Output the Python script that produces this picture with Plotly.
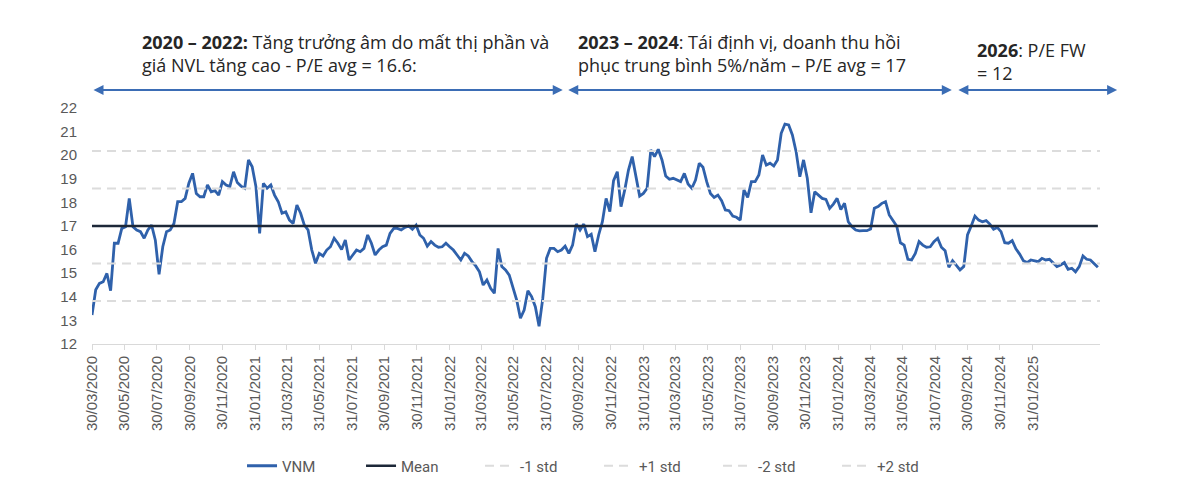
import pandas as pd
import plotly.graph_objects as go

# VNM trailing P/E, one reading per week starting 30/03/2020
pe = [
    13.23, 14.30, 14.57, 14.64, 14.99, 14.26, 16.27, 16.27, 16.90, 16.97,
    18.17, 16.97, 16.83, 16.76, 16.48, 16.83, 17.04, 16.40, 14.95, 16.12,
    16.76, 16.83, 17.11, 18.03, 18.03, 18.17, 18.81, 19.23, 18.38, 18.24,
    18.24, 18.74, 18.45, 18.50, 18.31, 18.88, 18.74, 18.67, 19.30, 18.84,
    18.69, 18.60, 19.80, 19.51, 18.67, 16.69, 18.81, 18.60, 18.74, 18.31,
    18.03, 17.54, 17.60, 17.25, 17.11, 17.89, 17.54, 17.04, 16.83, 15.98,
    15.42, 15.84, 15.73, 15.98, 16.12, 16.48, 16.27, 16.00, 16.41, 15.56,
    15.77, 15.98, 15.91, 16.05, 16.62, 16.27, 15.77, 15.98, 16.12, 16.19,
    16.69, 16.90, 16.90, 16.83, 16.94, 17.00, 16.86, 17.04, 16.62, 16.48,
    16.15, 16.34, 16.19, 16.10, 16.12, 16.27, 16.12, 15.98, 15.77, 15.56,
    15.84, 15.73, 15.49, 15.31, 15.06, 14.50, 14.71, 14.36, 14.15, 16.05,
    15.28, 15.14, 14.92, 14.36, 13.86, 13.09, 13.44, 14.26, 14.01, 13.58,
    12.75, 13.93, 15.63, 16.05, 16.05, 15.91, 15.98, 16.15, 15.84, 16.19,
    17.08, 16.83, 17.08, 16.55, 16.65, 15.91, 16.62, 17.18, 18.17, 17.61,
    18.92, 19.30, 17.82, 18.53, 19.37, 19.94, 19.02, 18.27, 18.38, 18.60,
    20.22, 19.94, 20.25, 19.80, 19.12, 18.98, 19.02, 18.95, 18.88, 19.23,
    18.78, 18.60, 18.95, 19.66, 19.49, 18.88, 18.38, 18.21, 18.31, 18.07,
    17.68, 17.65, 17.42, 17.37, 17.25, 18.53, 18.21, 18.88, 18.88, 19.16,
    20.01, 19.58, 19.66, 19.54, 19.80, 20.93, 21.32, 21.28, 20.86, 20.15,
    19.09, 19.80, 19.02, 17.56, 18.45, 18.31, 18.17, 18.13, 17.75, 17.93,
    18.17, 17.70, 17.96, 17.18, 16.97, 16.83, 16.79, 16.80, 16.80, 16.87,
    17.75, 17.82, 17.96, 18.03, 17.47, 17.23, 17.00, 16.29, 16.19, 15.59,
    15.56, 15.84, 16.34, 16.19, 16.10, 16.12, 16.34, 16.48, 16.10, 15.95,
    15.25, 15.53, 15.35, 15.14, 15.28, 16.62, 17.00, 17.42, 17.25, 17.18,
    17.23, 17.08, 16.86, 16.94, 16.76, 16.29, 16.27, 16.38, 16.03, 15.81,
    15.53, 15.45, 15.56, 15.53, 15.49, 15.63, 15.56, 15.59, 15.42, 15.28,
    15.35, 15.45, 15.16, 15.21, 15.06, 15.28, 15.73, 15.59, 15.56, 15.39,
    15.25,
]
pe_mean = 17.0
pe_std = 1.59

tick_labels = [
    "30/03/2020", "30/05/2020", "30/07/2020", "30/09/2020", "30/11/2020",
    "31/01/2021", "31/03/2021", "31/05/2021", "31/07/2021", "30/09/2021", "30/11/2021",
    "31/01/2022", "31/03/2022", "31/05/2022", "31/07/2022", "30/09/2022", "30/11/2022",
    "31/01/2023", "31/03/2023", "31/05/2023", "31/07/2023", "30/09/2023", "30/11/2023",
    "31/01/2024", "31/03/2024", "31/05/2024", "31/07/2024", "30/09/2024", "30/11/2024",
    "31/01/2025",
]

# period notes above the chart
notes = [
    "<b>2020 – 2022:</b> Tăng trưởng âm do mất thị phần và<br>giá NVL tăng cao - P/E avg = 16.6:",
    "<b>2023 – 2024</b>: Tái định vị, doanh thu hồi<br>phục trung bình 5%/năm – P/E avg = 17",
    "<b>2026</b>: P/E FW<br>= 12",
]

dates = pd.date_range("2020-03-30", periods=len(pe), freq="7D")
tick_dates = pd.to_datetime(tick_labels, format="%d/%m/%Y")
x_end = pd.Timestamp("2025-06-06")

fig = go.Figure()

fig.add_trace(go.Scatter(x=dates, y=pe, name="VNM", mode="lines",
                         line=dict(color="#2f61ab", width=2.8)))
fig.add_trace(go.Scatter(x=[dates[0], dates[-1]], y=[pe_mean, pe_mean], name="Mean",
                         mode="lines", line=dict(color="#1d2838", width=2.4)))

bands = [("-1 std", -1), ("+1 std", 1), ("-2 std", -2), ("+2 std", 2)]
for name, k in bands:
    lvl = pe_mean + k * pe_std
    fig.add_trace(go.Scatter(x=[dates[0], x_end], y=[lvl, lvl], name=name, mode="lines",
                             line=dict(color="#dcdcdc", width=2, dash="9px,6px")))

# double headed arrows marking each period
arrow_col = "#3b6db5"
spans = [(0.0, 0.467), (0.471, 0.853), (0.858, 1.017)]
for a, b in spans:
    fig.add_annotation(xref="x domain", yref="y domain", axref="x domain", ayref="y domain",
                       x=b, y=1.076, ax=a, ay=1.076, text="", showarrow=True,
                       arrowside="end+start", arrowhead=2, arrowsize=1, arrowwidth=2,
                       arrowcolor=arrow_col, standoff=0, startstandoff=0)

note_pos = [(0.0476, 1.229), (0.480, 1.229), (0.876, 1.195)]
for txt, (nx, ny) in zip(notes, note_pos):
    fig.add_annotation(xref="paper", yref="paper", x=nx, y=ny, text=txt,
                       showarrow=False, xanchor="left", yanchor="middle", align="left",
                       font=dict(family="Open Sans", size=18, color="#262626"))

fig.update_xaxes(
    range=[dates[0], x_end], automargin=False,
    tickmode="array", tickvals=tick_dates, ticktext=tick_labels,
    tickangle=-90, ticks="outside", ticklen=5, tickcolor="#d9d9d9",
    showline=True, linecolor="#d9d9d9", linewidth=1, showgrid=False, zeroline=False,
    tickfont=dict(family="Liberation Sans", size=15, color="#595959"),
)
fig.update_yaxes(
    range=[12, 22], dtick=1, showgrid=False, zeroline=False, showline=False,
    ticklabelstandoff=14, automargin=False,
    tickfont=dict(family="Liberation Sans", size=15, color="#595959"),
)

# the page has an 8px body margin, so the figure is 16px smaller than the window
fig.update_layout(
    width=1184, height=488,
    margin=dict(l=84, r=92, t=100, b=152),
    plot_bgcolor="white", paper_bgcolor="white",
    legend=dict(orientation="h", x=0.503, y=-0.517, xanchor="center", yanchor="middle",
                entrywidth=74, entrywidthmode="pixels",
                font=dict(family="Roboto", size=15, color="#595959")),
)

fig.write_html("out.html")
